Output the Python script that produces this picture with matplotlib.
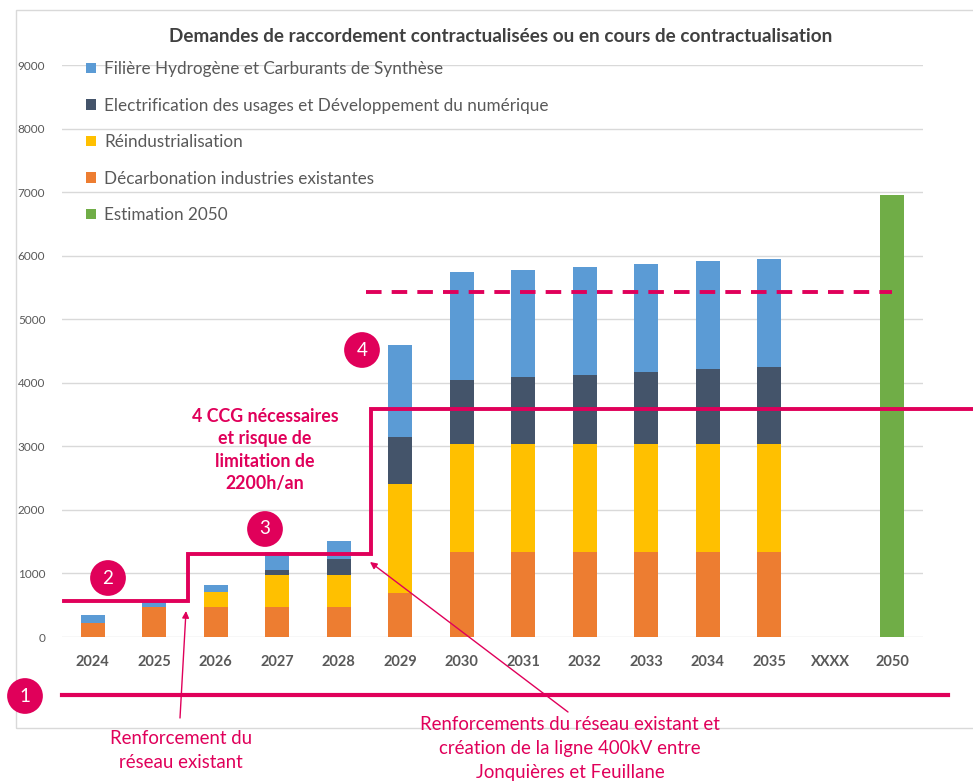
import matplotlib
matplotlib.use("Agg")
import matplotlib.pyplot as plt
from matplotlib.patches import Rectangle
import numpy as np

plt.rcParams['font.family'] = ['Lato', 'DejaVu Sans']

# ---- data ----
categories = ['2024', '2025', '2026', '2027', '2028', '2029', '2030', '2031',
              '2032', '2033', '2034', '2035', 'XXXX', '2050']
decarbonation = [220, 465, 465, 465, 465, 700, 1330, 1330, 1330, 1330, 1330, 1330, 0, 0]
reindustrialisation = [0, 0, 240, 505, 505, 1700, 1710, 1710, 1710, 1710, 1710, 1710, 0, 0]
electrification = [0, 0, 0, 80, 250, 740, 1000, 1050, 1080, 1125, 1170, 1215, 0, 0]
hydrogene = [120, 125, 120, 290, 295, 1450, 1700, 1690, 1700, 1700, 1700, 1700, 0, 0]
estimation = [0, 0, 0, 0, 0, 0, 0, 0, 0, 0, 0, 0, 0, 6950]

labels = ['Filière Hydrogène et Carburants de Synthèse',
          'Electrification des usages et Développement du numérique',
          'Réindustrialisation',
          'Décarbonation industries existantes',
          'Estimation 2050']

# capacity steps
step_levels = [560, 1300, 3590]
step_breaks = [-0.47, 1.55, 4.52, 14.35]
dashed_level = 5430
dashed_span = [4.45, 13.0]
base_level = -910

yticks = [0, 1000, 2000, 3000, 4000, 5000, 6000, 7000, 8000, 9000]

# ---- style ----
C_OR = '#ED7D31'
C_YE = '#FFC000'
C_DK = '#44546A'
C_BL = '#5B9BD5'
C_GR = '#70AD47'
PINK = '#E0005A'
GRID = '#D9D9D9'
TXT = '#595959'

W, H = 973, 781
fig = plt.figure(figsize=(W / 100, H / 100), dpi=100)
ax = fig.add_axes([62 / W, 1 - 637 / H, 861 / W, 572 / H])


def fpos(px, py):
    return (px / W, 1 - py / H)


# chart frame
fig.patches.append(Rectangle(fpos(16, 728), (W - 16 + 5) / W, (728 - 10) / H,
                             transform=fig.transFigure, fill=False,
                             ec=GRID, lw=1, zorder=0))

x = np.arange(len(categories))
bw = 0.39
b0 = np.zeros(len(x))
h_or = ax.bar(x, decarbonation, bw, bottom=b0, color=C_OR, zorder=2)
b1 = b0 + np.array(decarbonation)
h_ye = ax.bar(x, reindustrialisation, bw, bottom=b1, color=C_YE, zorder=2)
b2 = b1 + np.array(reindustrialisation)
h_dk = ax.bar(x, electrification, bw, bottom=b2, color=C_DK, zorder=2)
b3 = b2 + np.array(electrification)
h_bl = ax.bar(x, hydrogene, bw, bottom=b3, color=C_BL, zorder=2)
h_gr = ax.bar(x, estimation, bw, color=C_GR, zorder=2)

ax.set_xlim(-0.5, len(categories) - 0.5)
ax.set_ylim(0, 9000)
ax.set_yticks(yticks)
ax.set_yticklabels([str(v) for v in yticks], fontsize=8.5, color=TXT)
ax.set_xticks(x)
ax.set_xticklabels(categories, fontsize=10.5, fontweight='bold', color=TXT)
ax.tick_params(length=0)
ax.tick_params(axis='x', pad=13)
ax.tick_params(axis='y', pad=12)
for s in ax.spines.values():
    s.set_visible(False)
ax.grid(axis='y', color=GRID, lw=1, zorder=0)
ax.set_axisbelow(True)

# step capacity line
sx = [step_breaks[0]]
sy = [step_levels[0]]
for i, lv in enumerate(step_levels):
    if i > 0:
        sx.append(step_breaks[i]); sy.append(lv)
    sx.append(step_breaks[i + 1]); sy.append(lv)
ax.plot(sx, sy, color=PINK, lw=2.8, clip_on=False, zorder=4,
        solid_joinstyle='miter')
ax.plot(dashed_span, [dashed_level] * 2, color=PINK, lw=2.8, ls=(0, (4, 2.6)),
        zorder=4)
ax.plot([-0.5, 13.9], [base_level] * 2, color=PINK, lw=3, clip_on=False, zorder=4)

# title
fig.text(*fpos(501, 36), 'Demandes de raccordement contractualisées ou en cours de contractualisation',
         ha='center', va='center', fontsize=13.6, fontweight='bold', color='#404040')

# legend
handles = [h_bl, h_dk, h_ye, h_or, h_gr]
leg = fig.legend(handles, labels, loc='upper left', bbox_to_anchor=fpos(86, 61),
                 frameon=False, fontsize=12.3, labelspacing=1.2,
                 handlelength=0.6, handleheight=0.6, handletextpad=0.45,
                 borderaxespad=0, borderpad=0)
for t in leg.get_texts():
    t.set_color(TXT)

# numbered circles
for num, (px, py) in [('1', (25, 696)), ('2', (108, 578)),
                      ('3', (265, 529)), ('4', (362, 350))]:
    fig.text(*fpos(px, py), num, ha='center', va='center', color='white',
             fontsize=13.5, zorder=6,
             bbox=dict(boxstyle='circle,pad=0.5', fc=PINK, ec='none'))

# pink annotations
fig.text(*fpos(265, 450), '4 CCG nécessaires\net risque de\nlimitation de\n2200h/an',
         ha='center', va='center', fontsize=12.8, fontweight='bold', color=PINK,
         linespacing=1.4)

ax.annotate('', xy=fpos(186, 611), xycoords='figure fraction',
            xytext=fpos(180, 718), textcoords='figure fraction',
            arrowprops=dict(arrowstyle='-|>', color=PINK, lw=1,
                            mutation_scale=10, shrinkA=0, shrinkB=0))
ax.annotate('', xy=fpos(370, 562), xycoords='figure fraction',
            xytext=fpos(568, 712), textcoords='figure fraction',
            arrowprops=dict(arrowstyle='-|>', color=PINK, lw=1,
                            mutation_scale=10, shrinkA=0, shrinkB=0))

fig.text(*fpos(181, 751), 'Renforcement du\nréseau existant', ha='center', va='center',
         fontsize=13.4, color=PINK, linespacing=1.5)
fig.text(*fpos(570, 716), 'Renforcements du réseau existant et\ncréation de la ligne 400kV entre\nJonquières et Feuillane',
         ha='center', va='top', fontsize=13.4, color=PINK, linespacing=1.5)

fig.savefig('out.png', dpi=100)
